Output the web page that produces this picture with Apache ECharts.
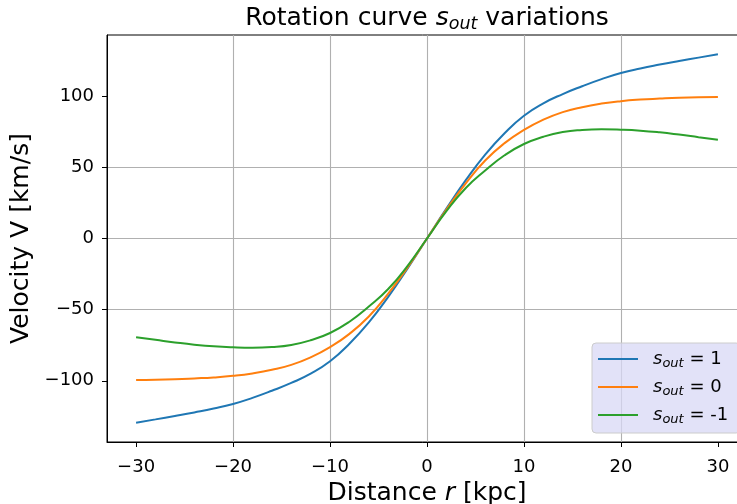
<!DOCTYPE html>
<html>
<head>
<meta charset="utf-8">
<script src="https://cdn.jsdelivr.net/npm/echarts@6/dist/echarts.min.js"></script>
<style>html,body{margin:0;padding:0;background:#fff;}#c{width:737px;height:504px;}</style>
</head>
<body>
<div id="c"></div>
<script>
// Distance r [kpc]
const rVals = [-30,-28,-26,-24,-22,-20,-18,-16,-14,-12,-10,-8,-6,-4,-2,0,2,4,6,8,10,12,14,16,18,20,22,24,26,28,30];
// s_out = 1
const blueVals = [-129.4,-127.1,-124.7,-122.2,-119.5,-116.3,-112,-107,-101.5,-95,-86.3,-74,-59,-41,-21,0,21,41,59,74,86.3,95,101.5,107,112,116.3,119.5,122.2,124.7,127.1,129.4];
// s_out = 0
const orangeVals = [-99.5,-99.3,-98.9,-98.3,-97.6,-96.5,-94.8,-92.3,-88.8,-83.5,-76.3,-67,-54.8,-38.8,-20.3,0,20.3,38.8,54.8,67,76.3,83.5,88.8,92.3,94.8,96.5,97.6,98.3,98.9,99.3,99.5];
// s_out = -1
const greenVals = [-69.4,-71.2,-73,-74.6,-75.8,-76.5,-76.8,-76.3,-74.8,-71.5,-66.4,-58.5,-47.8,-35.5,-19.2,0,19.2,35.5,47.8,58.5,66.4,71.5,74.8,76.3,76.8,76.5,75.8,74.6,73,71.2,69.4];
const seriesNames = ['s_out = 1','s_out = 0','s_out = -1'];
const legendValues = ['1','0','-1'];
const xTicks = [-30,-20,-10,0,10,20,30];
const yTicks = [-100,-50,0,50,100];

const FONT = 'DejaVu Sans';
const minus = v => String(v).replace('-', '\u2212');
const pairs = vals => rVals.map((r, i) => [r, vals[i]]);

const chart = echarts.init(document.getElementById('c'), null, {renderer: 'canvas'});
const subRich = (size, subSize, pad, lead) => ({
  it: {fontFamily: FONT, fontStyle: 'italic', fontWeight: 'normal', fontSize: size, color: '#000', padding: [0, 0, 0, lead || 0]},
  sub: {fontFamily: FONT, fontStyle: 'italic', fontWeight: 'normal', fontSize: subSize, color: '#000', padding: [pad, 0, 0, 0]},
  n: {fontFamily: FONT, fontWeight: 'normal', fontSize: size, color: '#000'}
});

chart.setOption({
  animation: false,
  backgroundColor: '#fff',
  title: {
    text: '{n|Rotation curve }{it|s}{sub|out}{n| variations}',
    left: 427, top: 3, textAlign: 'center', padding: 0,
    textStyle: {fontWeight: 'normal', rich: subRich(25, 17.5, 12)}
  },
  legend: {
    left: 592, top: 343,
    orient: 'vertical',
    icon: 'rect', itemWidth: 40, itemHeight: 2, itemGap: 8,
    padding: [7, 12, 7, 6],
    backgroundColor: 'rgba(216,216,245,0.75)',
    borderColor: '#cccccc', borderWidth: 1, borderRadius: 4,
    data: seriesNames,
    formatter: name => '{it|s}{sub|out}{n| = ' + legendValues[seriesNames.indexOf(name)] + '}',
    textStyle: {rich: subRich(18, 13, 9, 10)}
  },
  grid: {left: 107, top: 35, width: 640, height: 407, outerBoundsMode: 'none', containLabel: false,
    show: true, borderColor: '#000', borderWidth: 1, backgroundColor: 'transparent'},
  xAxis: {
    type: 'value', min: -33, max: 33, splitNumber: 6,
    name: '{n|Distance }{it|r}{n| [kpc]}', nameLocation: 'middle', nameGap: 32,
    nameTextStyle: {rich: subRich(25, 17, 0)},
    axisLine: {show: true, onZero: false, lineStyle: {color: '#000', width: 1}},
    axisTick: {show: true, inside: false, length: 5, customValues: xTicks, lineStyle: {color: '#000'}},
    axisLabel: {customValues: xTicks, formatter: minus, fontFamily: FONT, fontSize: 18, color: '#000', margin: 16},
    splitLine: {show: true, showMinLine: false, showMaxLine: false, lineStyle: {color: '#b0b0b0', width: 1.1}}
  },
  yAxis: {
    type: 'value', min: -143, max: 143, splitNumber: 5,
    name: '{n|Velocity V [km/s]}', nameLocation: 'middle', nameGap: 73, nameRotate: 90,
    nameTextStyle: {rich: subRich(25, 17, 0)},
    axisLine: {show: true, onZero: false, lineStyle: {color: '#000', width: 1}},
    axisTick: {show: true, inside: false, length: 5, customValues: yTicks, lineStyle: {color: '#000'}},
    axisLabel: {customValues: yTicks, formatter: minus, fontFamily: FONT, fontSize: 18, color: '#000', margin: 13},
    splitLine: {show: true, showMinLine: false, showMaxLine: false, lineStyle: {color: '#b0b0b0', width: 1.1}}
  },
  series: [
    {name: seriesNames[0], type: 'line', data: pairs(blueVals), showSymbol: false, symbol: 'none', smooth: true, lineStyle: {color: '#1f77b4', width: 2}, itemStyle: {color: '#1f77b4'}},
    {name: seriesNames[1], type: 'line', data: pairs(orangeVals), showSymbol: false, symbol: 'none', smooth: true, lineStyle: {color: '#ff7f0e', width: 2}, itemStyle: {color: '#ff7f0e'}},
    {name: seriesNames[2], type: 'line', data: pairs(greenVals), showSymbol: false, symbol: 'none', smooth: true, lineStyle: {color: '#2ca02c', width: 2}, itemStyle: {color: '#2ca02c'}}
  ]
});
</script>
</body>
</html>
